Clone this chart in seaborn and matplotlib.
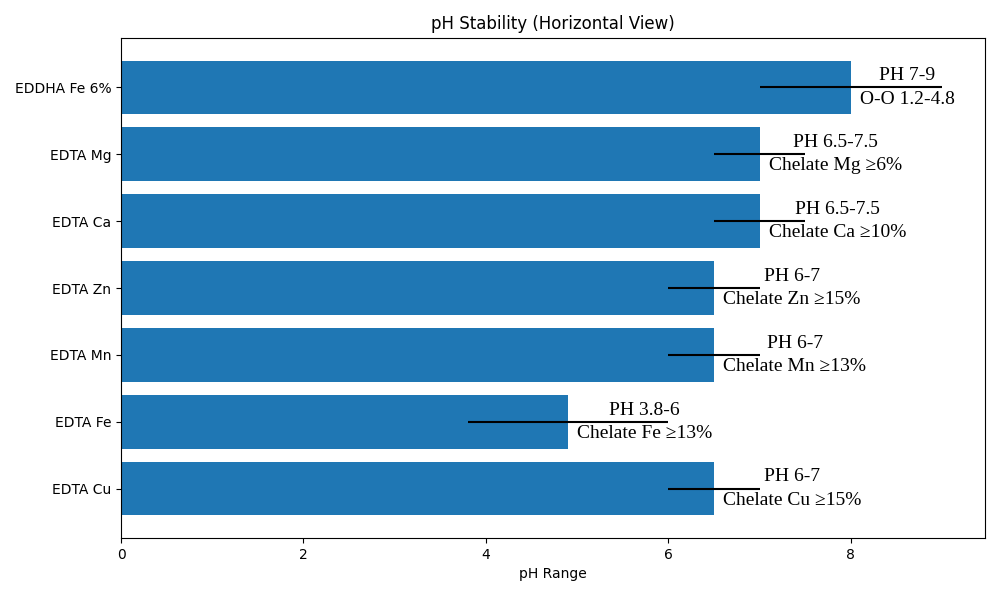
import matplotlib
matplotlib.use("Agg")
import matplotlib.pyplot as plt
import seaborn as sns

categories = ["EDDHA Fe 6%", "EDTA Mg", "EDTA Ca", "EDTA Zn", "EDTA Mn", "EDTA Fe", "EDTA Cu"]
ph_low = [7, 6.5, 6.5, 6, 6, 3.8, 6]
ph_high = [9, 7.5, 7.5, 7, 7, 6, 7]
ph_mid = [(a + b) / 2 for a, b in zip(ph_low, ph_high)]
labels = ["PH 7-9\nO-O 1.2-4.8", "PH 6.5-7.5\nChelate Mg ≥6%", "PH 6.5-7.5\nChelate Ca ≥10%",
          "PH 6-7\nChelate Zn ≥15%", "PH 6-7\nChelate Mn ≥13%", "PH 3.8-6\nChelate Fe ≥13%",
          "PH 6-7\nChelate Cu ≥15%"]

fig, ax = plt.subplots(figsize=(10, 6), dpi=100)
sns.barplot(x=ph_mid, y=categories, orient="h", color="#1f77b4", saturation=1, width=0.8, ax=ax)
for i, (lo, hi, m, t) in enumerate(zip(ph_low, ph_high, ph_mid, labels)):
    ax.hlines(i, lo, hi, color="black", lw=1.5)
    ax.text(m + 0.1, i, t, ha="left", va="center", multialignment="center",
            fontsize=14, family="Liberation Serif", linespacing=1.5)
ax.set_xlim(0, 9.47)
ax.set_xlabel("pH Range")
ax.set_ylabel("")
ax.set_title("pH Stability (Horizontal View)")
fig.subplots_adjust(left=0.121, right=0.985, top=0.937, bottom=0.103)
fig.savefig("out.png")
